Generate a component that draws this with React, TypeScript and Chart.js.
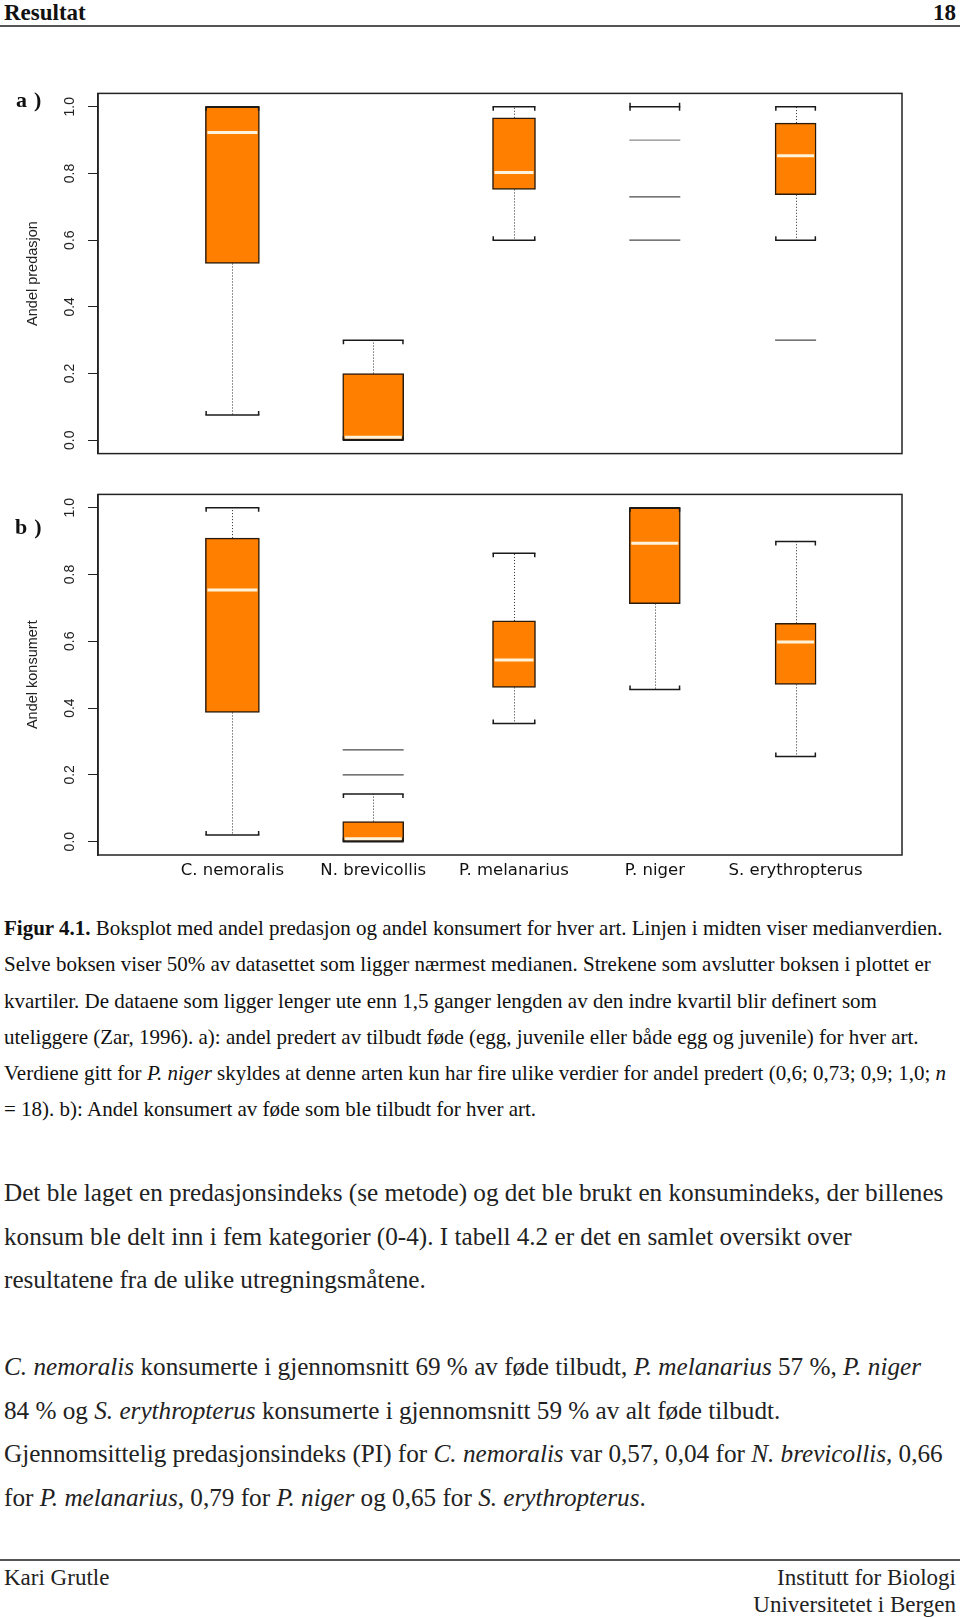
import React, { useEffect, useRef } from "react";
import { Chart, registerables } from "chart.js";

Chart.register(...registerables);

// ---------- data ----------
const species = ["C. nemoralis", "N. brevicollis", "P. melanarius", "P. niger", "S. erythropterus"];
const yTickValues = [0, 0.2, 0.4, 0.6, 0.8, 1.0];

// a) Andel predasjon
const predLow = [0.076, 0.0, 0.6, 0.9, 0.6];
const predQ1 = [0.53, 0.0, 0.752, 0.9, 0.736];
const predMedian = [0.923, 0.0, 0.803, 0.9, 0.853];
const predQ3 = [1.0, 0.2, 0.967, 0.9, 0.951];
const predHigh = [1.0, 0.3, 1.0, 1.0, 1.0];
const predOutliers = [[], [], [], [0.73, 0.6], [0.3]];

// b) Andel konsumert
const konsLow = [0.02, 0.0, 0.354, 0.456, 0.255];
const konsQ1 = [0.387, 0.0, 0.462, 0.713, 0.471];
const konsMedian = [0.754, 0.0, 0.544, 0.894, 0.598];
const konsQ3 = [0.909, 0.06, 0.661, 1.0, 0.654];
const konsHigh = [1.0, 0.143, 0.864, 1.0, 0.899];
const konsOutliers = [[], [0.2, 0.275], [], [], []];

// ---------- styles ----------
const BOX_WIDTHS = [54, 61, 43, 51, 41];
const BOX_FILL = "#FF8000";
const BOX_EDGE = "#2a1a0c";
const INK = "#222";
const SERIF = '"Liberation Serif", "Times New Roman", serif';

type Stats = {
  low: number[];
  q1: number[];
  med: number[];
  q3: number[];
  high: number[];
  out: number[][];
};

function makeBoxPlugin(s: Stats) {
  return {
    id: "boxExtras",
    afterDatasetsDraw(chart: any) {
      const { ctx, chartArea, scales } = chart;
      const xs = scales.x;
      const ys = scales.y;
      ctx.save();
      species.forEach((_, i) => {
        const cx = xs.getPixelForValue(i + 1);
        const half = BOX_WIDTHS[i] / 2;
        const yQ1 = ys.getPixelForValue(s.q1[i]);
        const yQ3 = ys.getPixelForValue(s.q3[i]);
        const yLo = ys.getPixelForValue(s.low[i]);
        const yHi = ys.getPixelForValue(s.high[i]);
        const degenerate = s.q1[i] === s.q3[i];

        // whiskers (dotted)
        ctx.strokeStyle = "#2a2a2a";
        ctx.lineWidth = 1;
        ctx.setLineDash([1, 2]);
        const wx = Math.round(cx) + 0.5;
        if (!degenerate) {
          if (yHi < yQ3 - 1) {
            ctx.beginPath();
            ctx.moveTo(wx, yQ3);
            ctx.lineTo(wx, yHi);
            ctx.stroke();
          }
          if (yLo > yQ1 + 1) {
            ctx.beginPath();
            ctx.moveTo(wx, yQ1);
            ctx.lineTo(wx, yLo);
            ctx.stroke();
          }
        }
        ctx.setLineDash([]);

        // caps (staples) with small end ticks pointing toward box
        const drawCap = (yy: number, dir: number) => {
          ctx.strokeStyle = "#1a1a1a";
          ctx.lineWidth = 1.5;
          ctx.beginPath();
          ctx.moveTo(cx - half, yy);
          ctx.lineTo(cx + half, yy);
          ctx.stroke();
          const up = dir <= 0 ? 4 : 0;
          const down = dir >= 0 ? 4 : 0;
          ctx.beginPath();
          ctx.moveTo(cx - half + 0.75, yy - up);
          ctx.lineTo(cx - half + 0.75, yy + down);
          ctx.moveTo(cx + half - 0.75, yy - up);
          ctx.lineTo(cx + half - 0.75, yy + down);
          ctx.stroke();
        };
        if (degenerate) {
          drawCap(yHi, 0);
        } else {
          drawCap(yHi, 1);
          drawCap(yLo, -1);
        }

        // median
        if (degenerate) {
          ctx.strokeStyle = "#8a8a8a";
          ctx.lineWidth = 1.2;
          ctx.beginPath();
          ctx.moveTo(cx - half, yQ1);
          ctx.lineTo(cx + half, yQ1);
          ctx.stroke();
        } else {
          let yMed = ys.getPixelForValue(s.med[i]);
          yMed = Math.min(Math.max(yMed, yQ3 + 3), yQ1 - 3);
          ctx.strokeStyle = "#FFF3DC";
          ctx.lineWidth = 3;
          ctx.beginPath();
          ctx.moveTo(cx - half + 2, yMed);
          ctx.lineTo(cx + half - 2, yMed);
          ctx.stroke();
        }

        // outliers drawn as short horizontal lines
        ctx.strokeStyle = "#4a4a4a";
        ctx.lineWidth = 1.2;
        s.out[i].forEach((v) => {
          const yy = ys.getPixelForValue(v);
          ctx.beginPath();
          ctx.moveTo(cx - half, yy);
          ctx.lineTo(cx + half, yy);
          ctx.stroke();
        });
      });

      // frame around the plot region
      ctx.strokeStyle = INK;
      ctx.lineWidth = 1.5;
      ctx.strokeRect(chartArea.left, chartArea.top, chartArea.right - chartArea.left, chartArea.bottom - chartArea.top);
      ctx.restore();
    },
  };
}

function Panel(props: {
  stats: Stats;
  yTitle: string;
  showX: boolean;
  top: number;
  height: number;
  padTop: number;
  padBottom: number;
}) {
  const ref = useRef<HTMLCanvasElement | null>(null);
  useEffect(() => {
    if (!ref.current) return;
    const s = props.stats;
    const datasets = species.map((name, i) => ({
      label: name,
      data: [{ x: i + 1, y: [s.q1[i], s.q3[i]] }],
      backgroundColor: BOX_FILL,
      borderColor: BOX_EDGE,
      borderWidth: 1.5,
      borderSkipped: false,
      barThickness: BOX_WIDTHS[i],
      grouped: false,
    }));
    const chart = new Chart(ref.current, {
      type: "bar",
      data: { datasets } as any,
      options: {
        animation: false,
        responsive: false,
        maintainAspectRatio: false,
        layout: { padding: { top: props.padTop, bottom: props.padBottom, left: 0, right: 58 } },
        plugins: { legend: { display: false }, tooltip: { enabled: false } },
        scales: {
          x: {
            type: "linear",
            display: props.showX,
            offset: false,
            min: 0.0455,
            max: 5.7557,
            afterBuildTicks: (sc: any) => {
              sc.ticks = species.map((_, i) => ({ value: i + 1 }));
            },
            afterFit: (sc: any) => {
              sc.height = props.showX ? 25 : 0;
            },
            ticks: {
              autoSkip: false,
              maxRotation: 0,
              minRotation: 0,
              padding: 6,
              color: "#111",
              font: { family: '"DejaVu Sans", sans-serif', size: 16.5 },
              callback: (v: any) => species[Math.round(Number(v)) - 1] ?? "",
            },
            grid: { display: false, drawTicks: false, offset: false },
            border: { display: false },
          },
          y: {
            type: "linear",
            min: -0.04,
            max: 1.04,
            afterBuildTicks: (sc: any) => {
              sc.ticks = yTickValues.map((v) => ({ value: v }));
            },
            afterFit: (sc: any) => {
              sc.width = 98;
            },
            ticks: {
              minRotation: 90,
              maxRotation: 90,
              crossAlign: "center",
              padding: 8,
              color: INK,
              font: { family: '"Liberation Sans", Arial, sans-serif', size: 14 },
              callback: (v: any) => Number(v).toFixed(1),
            },
            grid: { drawOnChartArea: false, drawTicks: true, tickLength: 10, color: INK, lineWidth: 1 },
            border: { display: true, color: INK, width: 1.5 },
            title: {
              display: true,
              text: props.yTitle,
              color: INK,
              font: { family: '"Liberation Sans", Arial, sans-serif', size: 14.5 },
              padding: { top: 24, bottom: 0 },
            },
          },
        },
      } as any,
      plugins: [makeBoxPlugin(s)],
    });
    return () => chart.destroy();
  }, []);
  return (
    <canvas
      ref={ref}
      width={960}
      height={props.height}
      style={{ position: "absolute", left: 0, top: props.top, width: 960, height: props.height }}
    />
  );
}

const abs = (extra: React.CSSProperties): React.CSSProperties => ({
  position: "absolute",
  whiteSpace: "nowrap",
  fontFamily: SERIF,
  margin: 0,
  ...extra,
});

export default function App() {
  const predStats: Stats = { low: predLow, q1: predQ1, med: predMedian, q3: predQ3, high: predHigh, out: predOutliers };
  const konsStats: Stats = { low: konsLow, q1: konsQ1, med: konsMedian, q3: konsQ3, high: konsHigh, out: konsOutliers };
  const cap = { fontSize: 21, lineHeight: "36.3px", color: "#111" };
  const body = { fontSize: 25.2, lineHeight: "43.6px", color: "#222" };
  return (
    <div style={{ position: "absolute", left: 0, top: 0, width: 960, height: 1617, background: "#fff", overflow: "hidden" }}>
      {/* header */}
      <div style={abs({ left: 4, top: 1, fontSize: 23, lineHeight: 1, fontWeight: "bold", color: "#111" })}>Resultat</div>
      <div style={abs({ right: 4, top: 1, fontSize: 23, lineHeight: 1, fontWeight: "bold", color: "#111" })}>18</div>
      <div style={{ position: "absolute", left: 0, top: 25, width: 960, height: 2, background: "#555" }} />

      <Panel stats={predStats} yTitle="Andel predasjon" showX={false} top={77} height={393} padTop={0} padBottom={0} />
      <Panel stats={konsStats} yTitle="Andel konsumert" showX={true} top={478} height={402} padTop={0} padBottom={0} />

      {/* panel labels */}
      <div style={abs({ left: 16, top: 89, fontSize: 22, lineHeight: 1, fontWeight: "bold", letterSpacing: 7, color: "#111" })}>a)</div>
      <div style={abs({ left: 15, top: 516, fontSize: 22, lineHeight: 1, fontWeight: "bold", letterSpacing: 7, color: "#111" })}>b)</div>

      {/* caption */}
      <div style={abs({ left: 4, top: 910, ...cap })}>
        <div>
          <b>Figur 4.1.</b> Boksplot med andel predasjon og andel konsumert for hver art. Linjen i midten viser medianverdien.
        </div>
        <div>Selve boksen viser 50% av datasettet som ligger nærmest medianen. Strekene som avslutter boksen i plottet er</div>
        <div>kvartiler. De dataene som ligger lenger ute enn 1,5 ganger lengden av den indre kvartil blir definert som</div>
        <div>uteliggere (Zar, 1996). a): andel predert av tilbudt føde (egg, juvenile eller både egg og juvenile) for hver art.</div>
        <div>
          Verdiene gitt for <i>P. niger</i> skyldes at denne arten kun har fire ulike verdier for andel predert (0,6; 0,73; 0,9; 1,0; <i>n</i>
        </div>
        <div>= 18). b): Andel konsumert av føde som ble tilbudt for hver art.</div>
      </div>

      {/* body text */}
      <div style={abs({ left: 4, top: 1171, ...body })}>
        <div>Det ble laget en predasjonsindeks (se metode) og det ble brukt en konsumindeks, der billenes</div>
        <div>konsum ble delt inn i fem kategorier (0-4). I tabell 4.2 er det en samlet oversikt over</div>
        <div>resultatene fra de ulike utregningsmåtene.</div>
      </div>
      <div style={abs({ left: 4, top: 1345, ...body })}>
        <div>
          <i>C. nemoralis</i> konsumerte i gjennomsnitt 69 % av føde tilbudt, <i>P. melanarius</i> 57 %, <i>P. niger</i>
        </div>
        <div>
          84 % og <i>S. erythropterus</i> konsumerte i gjennomsnitt 59 % av alt føde tilbudt.
        </div>
        <div>
          Gjennomsittelig predasjonsindeks (PI) for <i>C. nemoralis</i> var 0,57, 0,04 for <i>N. brevicollis,</i> 0,66
        </div>
        <div>
          for <i>P. melanarius</i>, 0,79 for <i>P. niger</i> og 0,65 for <i>S. erythropterus</i>.
        </div>
      </div>

      {/* footer */}
      <div style={{ position: "absolute", left: 0, top: 1559, width: 960, height: 2, background: "#555" }} />
      <div style={abs({ left: 4, top: 1564, fontSize: 23, lineHeight: "27px", color: "#222" })}>Kari Grutle</div>
      <div style={abs({ right: 4, top: 1564, fontSize: 23, lineHeight: "27px", color: "#222", textAlign: "right" })}>
        <div>Institutt for Biologi</div>
        <div>Universitetet i Bergen</div>
      </div>
    </div>
  );
}
